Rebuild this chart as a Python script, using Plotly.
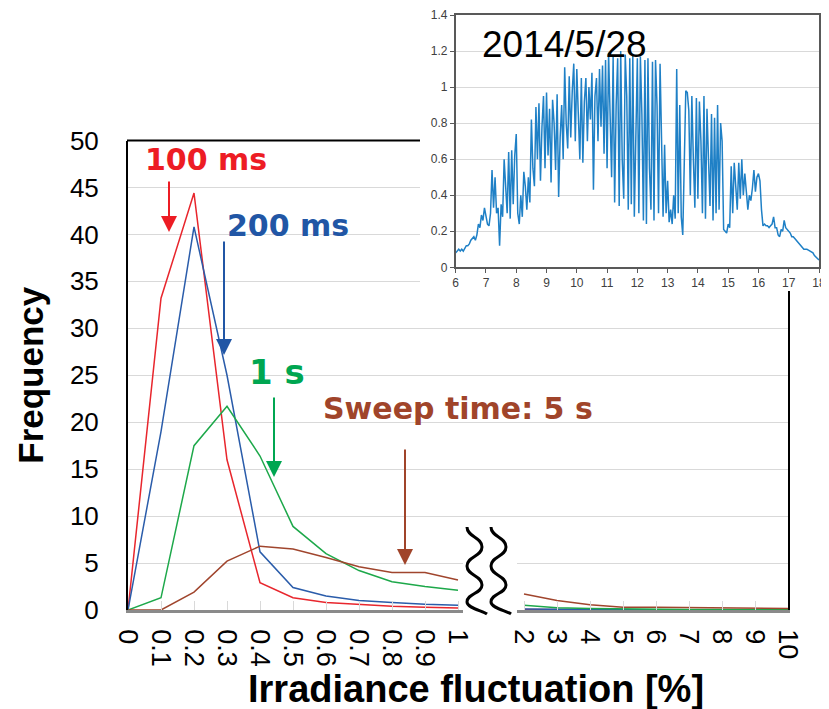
import plotly.graph_objects as go

# page body has an 8px margin; the figure fills the rest of the 829x709 window
PAGE_MARGIN = 8
W, H = 829 - PAGE_MARGIN, 709 - PAGE_MARGIN

# ---------------- data ----------------
fluct_categories = ['0', '0.1', '0.2', '0.3', '0.4', '0.5', '0.6', '0.7', '0.8', '0.9', '1',
                    'gap', '2', '3', '4', '5', '6', '7', '8', '9', '10']
tick_labels = ['0', '0.1', '0.2', '0.3', '0.4', '0.5', '0.6', '0.7', '0.8', '0.9', '1',
               '2', '3', '4', '5', '6', '7', '8', '9', '10']

freq_100ms = [0, 33.2, 44.4, 16.0, 2.9, 1.3, 0.8, 0.56, 0.4, 0.3, 0.2,
              None, 0.05, 0.03, 0.02, 0.02, 0.01, 0.01, 0.01, 0.01, 0.01]
freq_200ms = [0, 19.0, 40.8, 25.0, 6.2, 2.4, 1.5, 1.0, 0.8, 0.6, 0.5,
              None, 0.1, 0.05, 0.03, 0.02, 0.02, 0.01, 0.01, 0.01, 0.01]
freq_1s = [0, 1.3, 17.5, 21.7, 16.4, 8.9, 6.0, 4.2, 3.0, 2.5, 2.1,
           None, 0.5, 0.25, 0.15, 0.1, 0.08, 0.05, 0.05, 0.03, 0.03]
freq_5s = [0, 0, 1.9, 5.2, 6.8, 6.5, 5.6, 4.6, 4.0, 4.0, 3.2,
           None, 1.7, 1.0, 0.56, 0.3, 0.3, 0.25, 0.2, 0.15, 0.15]

series_names = ['100 ms', '200 ms', '1 s', 'Sweep time: 5 s']

# inset: irradiance on 2014/5/28, sampled every 0.05 h from 6:00 to 18:00 (one row per hour)
inset_start_hour = 6.0
inset_step_hour = 0.05
inset_irradiance = [
    0.08, 0.09, 0.10, 0.09, 0.10, 0.09, 0.11, 0.12, 0.12, 0.13, 0.15, 0.16, 0.17, 0.15, 0.18, 0.24, 0.22, 0.29, 0.26, 0.33,
    0.28, 0.24, 0.23, 0.30, 0.54, 0.33, 0.50, 0.30, 0.33, 0.12, 0.35, 0.28, 0.60, 0.45, 0.30, 0.64, 0.27, 0.65, 0.35, 0.62,
    0.74, 0.30, 0.24, 0.40, 0.28, 0.53, 0.45, 0.32, 0.50, 0.36, 0.82, 0.55, 0.45, 0.89, 0.60, 0.91, 0.48, 0.78, 0.95, 0.55,
    0.97, 0.62, 0.88, 0.47, 0.93, 0.80, 0.54, 0.96, 0.39, 0.72, 0.90, 0.60, 1.11, 0.80, 0.66, 1.06, 0.72, 0.98, 1.13, 0.70,
    1.10, 0.85, 0.60, 1.05, 0.58, 0.92, 1.05, 0.70, 1.00, 0.82, 1.08, 0.43, 0.95, 1.05, 0.70, 1.10, 0.78, 1.12, 0.63, 1.15,
    0.55, 1.19, 0.80, 0.50, 1.17, 0.36, 0.90, 1.16, 0.34, 1.20, 0.60, 0.38, 1.18, 0.95, 0.32, 1.16, 0.35, 1.18, 0.28, 0.75,
    1.16, 0.30, 1.17, 0.85, 0.26, 1.15, 0.24, 1.16, 0.55, 0.32, 1.14, 0.26, 1.15, 0.90, 0.30, 1.13, 0.69, 0.28, 0.68, 0.30,
    0.48, 0.25, 0.32, 0.24, 0.40, 0.27, 1.10, 0.30, 0.90, 0.28, 0.18, 0.60, 0.98, 0.97, 0.87, 0.40, 0.95, 0.60, 0.33, 0.94,
    0.38, 0.92, 0.70, 0.30, 0.95, 0.27, 0.88, 0.60, 0.34, 0.85, 0.26, 0.83, 0.30, 0.90, 0.32, 0.80, 0.70, 0.21, 0.20, 0.19,
    0.24, 0.22, 0.56, 0.30, 0.58, 0.45, 0.32, 0.58, 0.38, 0.60, 0.40, 0.52, 0.43, 0.32, 0.40, 0.37, 0.44, 0.54, 0.42, 0.50,
    0.52, 0.48, 0.32, 0.23, 0.24, 0.23, 0.23, 0.22, 0.23, 0.24, 0.28, 0.22, 0.22, 0.18, 0.17, 0.21, 0.20, 0.26, 0.22, 0.21,
    0.20, 0.19, 0.17, 0.17, 0.16, 0.15, 0.14, 0.13, 0.12, 0.11, 0.10, 0.10, 0.10, 0.095, 0.09, 0.087, 0.08, 0.065, 0.055, 0.05,
    0.04,
]
inset_hours = [inset_start_hour + i * inset_step_hour for i in range(len(inset_irradiance))]

# ---------------- styling ----------------
line_colors = ['#E8262D', '#2A5CAA', '#1DA84A', '#A0452D']
text_colors = ['#ED1C24', '#2156A5', '#00A651', '#A0442A']


def px(x):
    return min(1.0, max(0.0, (x - PAGE_MARGIN) / W))


def py(y):
    return min(1.0, max(0.0, 1 - (y - PAGE_MARGIN) / H))


fig = go.Figure()

for vals, name, col in zip([freq_100ms, freq_200ms, freq_1s, freq_5s], series_names, line_colors):
    fig.add_trace(go.Scatter(x=fluct_categories, y=vals, mode='lines', name=name,
                             line=dict(color=col, width=1.5), connectgaps=False,
                             xaxis='x', yaxis='y'))

# empty white panel that hides the main chart behind the inset
fig.add_trace(go.Scatter(x=[], y=[], xaxis='x2', yaxis='y2', hoverinfo='skip', showlegend=False))

fig.add_trace(go.Scatter(x=inset_hours, y=inset_irradiance, mode='lines', name='2014/5/28',
                         line=dict(color='#1F80C6', width=1.5), xaxis='x3', yaxis='y3'))

inset_font = dict(family='Liberation Sans, Arial', size=12, color='#404040')

fig.update_layout(
    width=W, height=H, autosize=False,
    margin=dict(l=0, r=0, t=0, b=0, autoexpand=False),
    paper_bgcolor='white', plot_bgcolor='white', showlegend=False,
    xaxis=dict(domain=[px(128), px(788)], anchor='y', type='category', automargin=False,
               categoryorder='array', categoryarray=fluct_categories, range=[0, 20],
               tickmode='array', tickvals=tick_labels, ticktext=tick_labels,
               tickangle=90, ticks='inside', ticklen=9, tickcolor='#d9d9d9', tickwidth=1,
               showline=True, linecolor='#8a8a8a', linewidth=2.5, showgrid=False,
               tickfont=dict(family='Liberation Sans Narrow, Liberation Sans, Arial', size=27, color='black'),
               ticklabelstandoff=11, fixedrange=True),
    yaxis=dict(domain=[py(610), py(140.5)], anchor='x', range=[0, 50], dtick=5, automargin=False,
               showgrid=True, gridcolor='#d9d9d9', gridwidth=1,
               showline=True, linecolor='black', linewidth=2, mirror=True, zeroline=False,
               ticks='', tickfont=dict(family='Liberation Sans, Arial', size=26, color='black'),
               ticklabelstandoff=22,
               title=dict(text='<b>Frequency</b>', standoff=16,
                          font=dict(family='Liberation Sans, Arial', size=35, color='black')),
               fixedrange=True),
    xaxis2=dict(domain=[px(420), 1], anchor='y2', visible=False, range=[0, 1], automargin=False),
    yaxis2=dict(domain=[py(291), 1], anchor='x2', visible=False, range=[0, 1], automargin=False),
    xaxis3=dict(domain=[px(455.7), px(819)], anchor='y3', range=[6, 18], tick0=6, dtick=1,
                automargin=False, ticklabeloverflow='allow',
                showgrid=False, showline=True, linecolor='#595959', linewidth=1.5, mirror=True,
                ticks='outside', ticklen=4, tickcolor='#595959', zeroline=False,
                tickfont=inset_font),
    yaxis3=dict(domain=[py(267.3), py(15)], anchor='x3', range=[0, 1.4], dtick=0.2,
                automargin=False,
                showgrid=True, gridcolor='#d9d9d9', showline=True, linecolor='#595959',
                linewidth=1.5, mirror=True, ticks='outside', ticklen=4, tickcolor='#595959',
                zeroline=False, tickfont=inset_font),
)

# ---------------- annotations ----------------
label_pos = [(206, 159, 30), (288, 225, 30), (277, 372, 34), (458, 408, 30)]
for name, (lx, ly, fs), col in zip(series_names, label_pos, text_colors):
    fig.add_annotation(text='<b>' + name + '</b>', x=px(lx), y=py(ly), xref='paper', yref='paper',
                       xanchor='center', yanchor='middle', showarrow=False,
                       font=dict(family='DejaVu Sans, Liberation Sans', size=fs, color=col))

arrows = [(169, 180, 232), (224, 240, 355), (274, 396, 477), (405, 448, 565)]
for (ax_, y0, y1), col in zip(arrows, text_colors):
    fig.add_annotation(text='', x=px(ax_), y=py(y1), xref='paper', yref='paper',
                       ax=0, ay=y0 - y1, showarrow=True, arrowhead=2, arrowsize=1.6,
                       arrowwidth=2, arrowcolor=col, standoff=0)

fig.add_annotation(text='2014/5/28', x=px(564), y=py(44), xref='paper', yref='paper',
                   xanchor='center', yanchor='middle', showarrow=False,
                   font=dict(family='Liberation Sans, Arial', size=37, color='black'))

fig.add_annotation(text='<b>Irradiance fluctuation [%]</b>', x=px(476), y=py(689),
                   xref='paper', yref='paper', xanchor='center', yanchor='middle', showarrow=False,
                   font=dict(family='Liberation Sans Narrow, Liberation Sans, Arial', size=38, color='black'))

# ---------------- shapes: frame top, axis break ----------------
fig.add_shape(type='line', xref='paper', yref='paper', x0=px(127), x1=px(420),
              y0=py(140.5), y1=py(140.5), line=dict(color='black', width=2), layer='above')

fig.add_shape(type='rect', xref='paper', yref='paper', x0=px(463), x1=px(517),
              y0=py(520), y1=py(614), fillcolor='white', line=dict(width=0), layer='above')


def wave(x_left, x_right, pts_y, end):
    xs = [x_left if i % 2 == 0 else x_right for i in range(len(pts_y))]
    d = 'M {},{}'.format(px(xs[0]), py(pts_y[0]))
    for i in range(1, len(pts_y)):
        dy = 0.5 * (pts_y[i] - pts_y[i - 1])
        d += ' C {},{} {},{} {},{}'.format(px(xs[i - 1]), py(pts_y[i - 1] + dy),
                                          px(xs[i]), py(pts_y[i] - dy),
                                          px(xs[i]), py(pts_y[i]))
    d += ' C {},{} {},{} {},{}'.format(px(xs[-1]), py(pts_y[-1] + 6),
                                      px(end[0] - 4), py(end[1] - 3), px(end[0]), py(end[1]))
    return d


wave_y = [527, 547, 566, 585, 602]
for shift in (0, 24):
    fig.add_shape(type='path', xref='paper', yref='paper',
                  path=wave(467 + shift, 482 + shift, wave_y, (487 + shift, 614)),
                  line=dict(color='black', width=3), layer='above')

fig.write_html('out.html')
